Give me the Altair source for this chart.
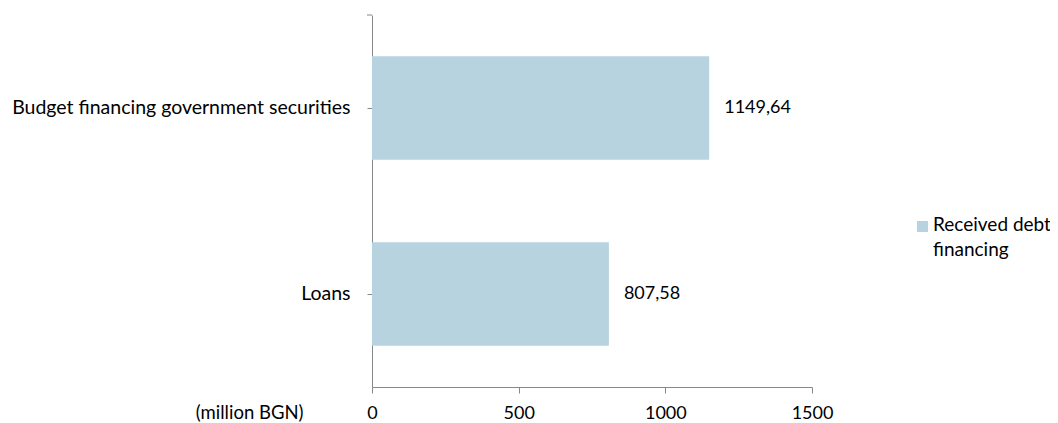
import altair as alt
import pandas as pd

# ---- data ----
categories = ["Budget financing government securities", "Loans"]
values = [1149.64, 807.58]
value_labels = ["1149,64", "807,58"]
series_name = "Received debt financing"
legend_lines = ["Received debt", "financing"]
x_ticks = [0, 500, 1000, 1500]
unit_label = "(million BGN)"

df = pd.DataFrame({
    "category": categories,
    "value": values,
    "label": value_labels,
    "series": [series_name] * len(categories),
})
legend_df = pd.DataFrame({"series": [series_name]})

BAR = "#B7D3DF"
AXIS = "#888888"
FONT = "Lato"
W, H = 440, 372
FS_TXT = 19.5   # words
FS_NUM = 18     # numbers

y_enc = alt.Y(
    "category:N",
    sort=categories,
    scale=alt.Scale(paddingInner=0.444, paddingOuter=0.222),
    axis=alt.Axis(
        title=None, domainColor=AXIS, tickColor=AXIS, tickSize=5,
        labelPadding=17, labelFontSize=FS_TXT, labelColor="black",
        labelFont=FONT, labelLimit=500,
    ),
)
x_enc = alt.X(
    "value:Q",
    scale=alt.Scale(domain=[0, 1500], nice=False),
    axis=alt.Axis(
        values=x_ticks, format="d", grid=False, domainColor=AXIS, tickColor=AXIS,
        tickSize=6, labelPadding=11, labelFontSize=FS_NUM, labelColor="black",
        labelFont=FONT, labelFlush=False,
        title=unit_label, titleX=-69, titleY=16, titleAlign="right",
        titleBaseline="top", titleFontWeight="normal", titleFontSize=18.5,
        titleFont=FONT, titleColor="black",
    ),
)

bars = alt.Chart(df).mark_bar(color=BAR).encode(
    y=y_enc,
    x=x_enc,
    color=alt.Color("series:N", scale=alt.Scale(range=[BAR]), legend=None),
)

labels = alt.Chart(df).mark_text(
    align="left", baseline="middle", dx=15, fontSize=FS_NUM, font=FONT, color="black"
).encode(
    y=alt.Y("category:N", sort=categories),
    x=alt.X("value:Q"),
    text="label:N",
)

# small tick at the top end of the category axis
top_tick = alt.Chart(legend_df).mark_rule(color=AXIS, strokeWidth=1).encode(
    x=alt.value(-5), x2=alt.value(0), y=alt.value(0)
)

# legend (square + wrapped label)
leg_sym = alt.Chart(legend_df).mark_square(size=121, opacity=1).encode(
    x=alt.value(550.5), y=alt.value(211.5),
    color=alt.Color("series:N", scale=alt.Scale(range=[BAR]), legend=None),
)
leg_txt = alt.Chart(legend_df).mark_text(
    align="left", baseline="alphabetic", fontSize=19, font=FONT,
    color="black", lineHeight=25, text=legend_lines,
).encode(x=alt.value(561), y=alt.value(216))

chart = alt.layer(bars, labels, top_tick, leg_sym, leg_txt).properties(
    width=W, height=H,
    autosize=alt.AutoSizeParams(type="none"),
    padding={"left": 364, "top": 7, "right": 238, "bottom": 36},
).configure_view(stroke=None)

chart.save("out.html", embed_options={"renderer": "svg", "actions": False})
